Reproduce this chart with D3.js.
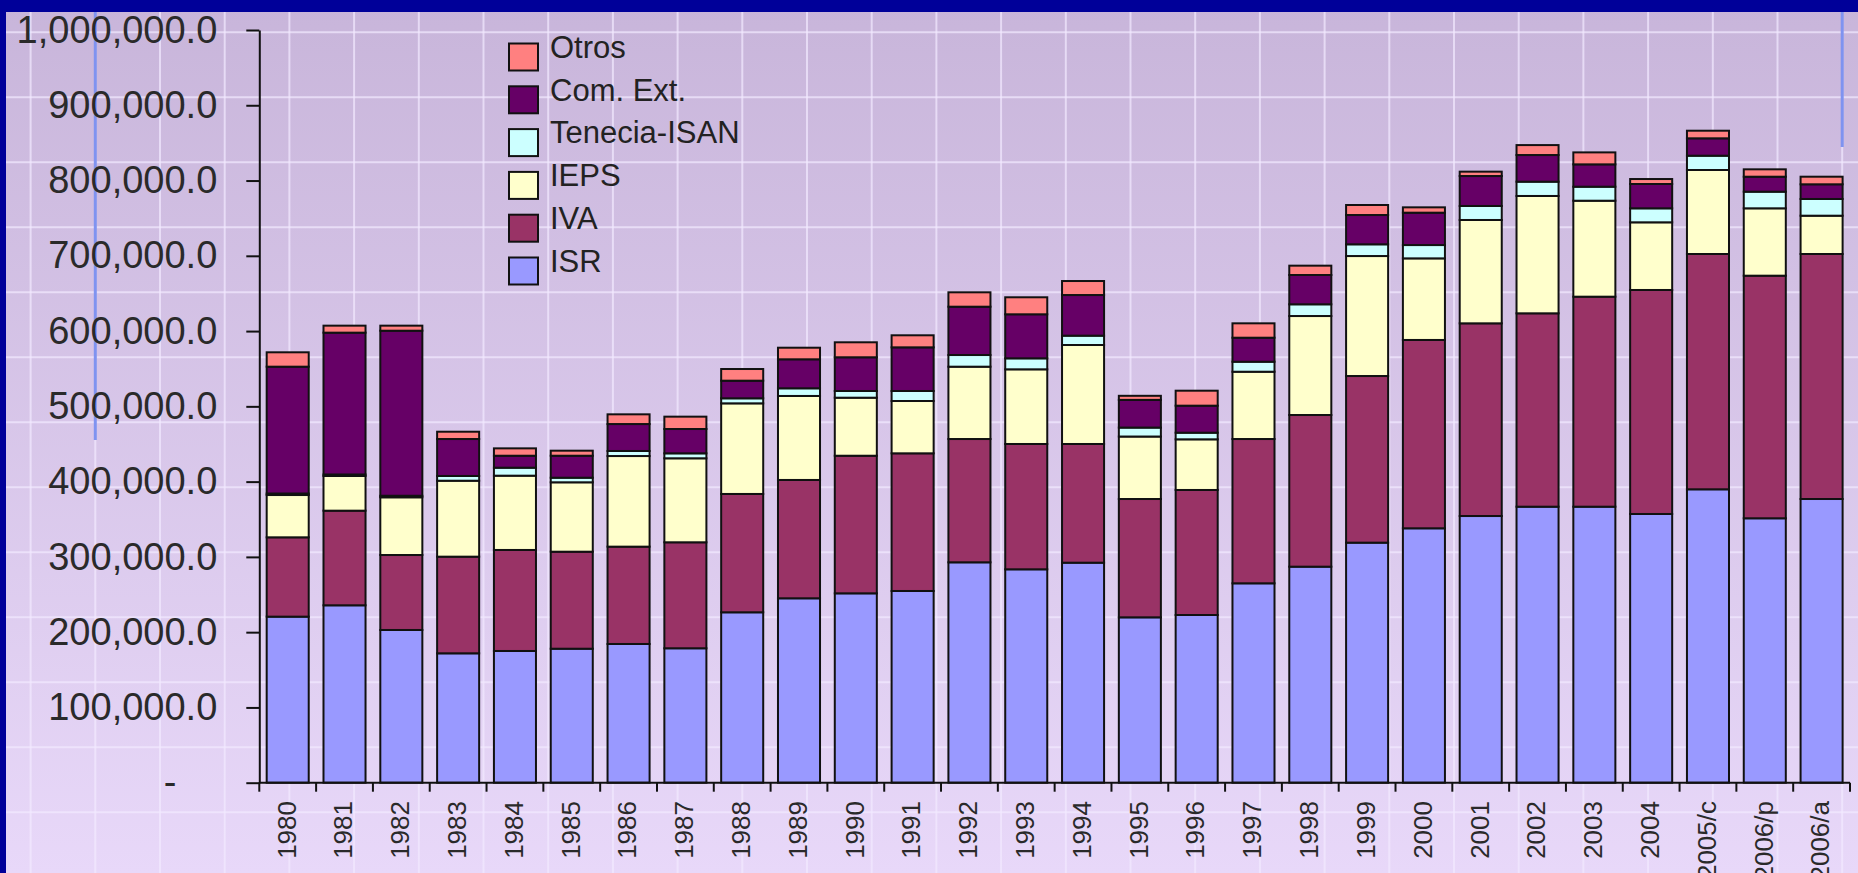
<!DOCTYPE html>
<html>
<head>
<meta charset="utf-8">
<script src="https://d3js.org/d3.v7.min.js"></script>
<style>
  html, body { margin: 0; padding: 0; background: #000099; }
  svg { display: block; font-family: 'Liberation Sans', Arial, sans-serif; }
</style>
</head>
<body>
<div id="chart"></div>
<script>
// categorias (años)
const years = ['1980', '1981', '1982', '1983', '1984', '1985', '1986', '1987', '1988', '1989',
  '1990', '1991', '1992', '1993', '1994', '1995', '1996', '1997', '1998', '1999',
  '2000', '2001', '2002', '2003', '2004', '2005/c', '2006/p', '2006/a'];

// valores en miles
const isr = [220.6, 235.7, 202.9, 171.9, 175.0, 178.0, 184.3, 178.6, 226.4, 245.0,
  251.6, 254.7, 292.8, 283.5, 292.3, 219.7, 222.8, 264.9, 287.0, 318.9,
  338.0, 354.3, 366.7, 366.7, 357.0, 389.8, 351.3, 376.9];
const iva = [105.4, 125.7, 99.6, 128.4, 134.2, 128.9, 129.3, 140.8, 157.2, 157.2,
  182.8, 182.9, 163.8, 166.5, 157.7, 157.2, 166.1, 191.7, 201.5, 221.4,
  250.2, 256.0, 256.9, 279.0, 297.6, 312.6, 322.3, 325.5];
const ieps = [56.2, 46.1, 76.7, 100.9, 98.7, 92.2, 120.4, 111.6, 120.4, 111.6,
  77.1, 69.5, 96.1, 99.2, 131.5, 83.0, 67.3, 89.4, 131.5, 159.4,
  108.4, 137.3, 155.9, 127.5, 89.9, 111.6, 89.5, 50.9];
const tenencia = [2.0, 2.0, 2.0, 6.3, 10.6, 6.1, 6.7, 6.6, 6.7, 10.2,
  8.9, 13.3, 15.5, 14.6, 12.4, 11.9, 8.8, 13.3, 15.6, 15.6,
  17.7, 18.6, 19.0, 18.6, 18.6, 19.0, 22.1, 22.2];
const comExt = [168.5, 188.4, 219.3, 49.1, 15.9, 29.2, 35.8, 32.3, 23.4, 38.5,
  44.8, 58.0, 64.2, 58.5, 54.0, 36.8, 35.9, 31.9, 38.9, 38.9,
  43.0, 39.8, 35.4, 29.7, 32.3, 23.1, 19.9, 19.5];
const otros = [19.1, 9.3, 6.7, 9.7, 9.8, 6.7, 12.9, 16.4, 15.5, 15.4,
  19.9, 16.0, 19.1, 22.6, 18.6, 5.4, 19.9, 19.1, 12.4, 13.3,
  7.1, 5.8, 13.2, 15.9, 6.6, 10.1, 9.8, 10.1];

const seriesNames = ['ISR', 'IVA', 'IEPS', 'Tenecia-ISAN', 'Com. Ext.', 'Otros'];
const seriesValues = [isr, iva, ieps, tenencia, comExt, otros];
const yTicks = [0, 100, 200, 300, 400, 500, 600, 700, 800, 900, 1000];

const width = 1858;
const height = 873;
const colors = ['#9999FF', '#993366', '#FFFFCC', '#CCFFFF', '#660066', '#FF8080'];

const rows = years.map((yr, i) => {
  const r = { year: yr };
  seriesNames.forEach((s, j) => { r[s] = seriesValues[j][i]; });
  return r;
});
const stacked = d3.stack().keys(seriesNames)(rows);

const svg = d3.select('#chart')
  .append('svg')
  .attr('width', width)
  .attr('height', height);

// fondo degradado
const defs = svg.append('defs');
const grad = defs.append('linearGradient')
  .attr('id', 'bg')
  .attr('x1', 0).attr('y1', 0).attr('x2', 0).attr('y2', 1);
grad.append('stop').attr('offset', '0%').attr('stop-color', '#c8b5da');
grad.append('stop').attr('offset', '100%').attr('stop-color', '#e8d8f9');

svg.append('rect')
  .attr('x', 0).attr('y', 0)
  .attr('width', width).attr('height', height)
  .attr('fill', 'url(#bg)');

// cuadricula del fondo
const gridX = d3.range(30.6, width, 64.7);
const gridY = d3.range(32.3, height, 65);
svg.append('g')
  .selectAll('line')
  .data(gridX)
  .enter()
  .append('line')
  .attr('x1', (d) => d).attr('x2', (d) => d)
  .attr('y1', 0).attr('y2', height)
  .attr('stroke', '#f2eaff')
  .attr('stroke-opacity', 0.7)
  .attr('stroke-width', 2);
svg.append('g')
  .selectAll('line')
  .data(gridY)
  .enter()
  .append('line')
  .attr('x1', 0).attr('x2', width)
  .attr('y1', (d) => d).attr('y2', (d) => d)
  .attr('stroke', '#f2eaff')
  .attr('stroke-opacity', 0.7)
  .attr('stroke-width', 2);

// lineas azules decorativas
svg.append('line')
  .attr('x1', gridX[1]).attr('x2', gridX[1])
  .attr('y1', 12).attr('y2', 440)
  .attr('stroke', '#7f93f0')
  .attr('stroke-width', 3);
svg.append('line')
  .attr('x1', gridX[28]).attr('x2', gridX[28])
  .attr('y1', 12).attr('y2', 147)
  .attr('stroke', '#7f93f0')
  .attr('stroke-width', 3);

// escalas
const x = d3.scaleBand()
  .domain(years)
  .range([259.3, 1850])
  .paddingInner(0.26)
  .paddingOuter(0.13);
const y = d3.scaleLinear()
  .domain([0, 1000])
  .range([782.7, 30]);

// barras apiladas
const layers = svg.append('g')
  .selectAll('g')
  .data(stacked)
  .enter()
  .append('g')
  .attr('fill', (d, i) => colors[i]);
layers.selectAll('rect')
  .data((d) => d)
  .enter()
  .append('rect')
  .attr('x', (d) => x(d.data.year))
  .attr('y', (d) => y(d[1]))
  .attr('width', x.bandwidth())
  .attr('height', (d) => y(d[0]) - y(d[1]))
  .attr('stroke', '#111')
  .attr('stroke-width', 2);

// eje Y
const yAxis = svg.append('g')
  .attr('transform', `translate(${x.range()[0]},0)`)
  .call(d3.axisLeft(y)
    .tickValues(yTicks)
    .tickSize(13)
    .tickSizeOuter(0)
    .tickPadding(29)
    .tickFormat((d) => (d === 0 ? '-' : d3.format(',.1f')(d * 1000))));
yAxis.select('.domain').attr('stroke', '#111').attr('stroke-width', 2);
yAxis.selectAll('.tick line').attr('stroke', '#111').attr('stroke-width', 2);
yAxis.selectAll('.tick text')
  .attr('font-size', 38)
  .attr('font-family', "'Liberation Sans', Arial, sans-serif")
  .attr('fill', '#2a2a2a');
yAxis.selectAll('.tick text')
  .filter((d) => d === 0)
  .attr('dx', -41);

// eje X
const step = x.step();
const bounds = years.map((d) => x(d) - step * x.paddingOuter()).concat([x.range()[1]]);
const base = y(0);
svg.append('line')
  .attr('x1', x.range()[0]).attr('x2', x.range()[1])
  .attr('y1', base).attr('y2', base)
  .attr('stroke', '#111')
  .attr('stroke-width', 2);
svg.append('g')
  .selectAll('line')
  .data(bounds)
  .enter()
  .append('line')
  .attr('x1', (d) => d).attr('x2', (d) => d)
  .attr('y1', base).attr('y2', base + 9)
  .attr('stroke', '#111')
  .attr('stroke-width', 2);
svg.append('g')
  .selectAll('text')
  .data(years)
  .enter()
  .append('text')
  .attr('transform', (d) => `translate(${x(d) + x.bandwidth() / 2},801) rotate(-90)`)
  .attr('text-anchor', 'end')
  .attr('dy', '0.3em')
  .attr('font-size', 26)
  .attr('fill', '#2a2a2a')
  .text((d) => d);

// leyenda
const legendOrder = seriesNames.slice().reverse();
const ly = d3.scalePoint().domain(legendOrder).range([57, 271]);
const legend = svg.append('g')
  .selectAll('g')
  .data(legendOrder)
  .enter()
  .append('g');
legend.append('rect')
  .attr('x', 509)
  .attr('y', (d) => ly(d) - 13.5)
  .attr('width', 29)
  .attr('height', 27)
  .attr('fill', (d) => colors[seriesNames.indexOf(d)])
  .attr('stroke', '#111')
  .attr('stroke-width', 2);
legend.append('text')
  .attr('x', 550)
  .attr('y', (d) => ly(d) - 10)
  .attr('dy', '0.35em')
  .attr('font-size', 31)
  .attr('fill', '#222')
  .text((d) => d);

// marco azul
svg.append('rect')
  .attr('x', 0).attr('y', 0)
  .attr('width', width).attr('height', 12)
  .attr('fill', '#000099');
svg.append('rect')
  .attr('x', 0).attr('y', 0)
  .attr('width', 6).attr('height', height)
  .attr('fill', '#000099');
</script>
</body>
</html>
